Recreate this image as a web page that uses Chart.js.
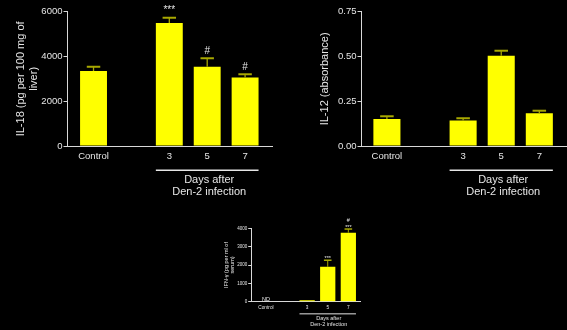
<!DOCTYPE html>
<html>
<head>
<meta charset="utf-8">
<script src="https://cdn.jsdelivr.net/npm/chart.js@4/dist/chart.umd.min.js"></script>
<style>
  html, body { margin: 0; padding: 0; background: #000; }
  body { width: 567px; height: 330px; position: relative; overflow: hidden; }
  .box { position: absolute; }
</style>
</head>
<body>
<div class="box" style="left:0;top:0;width:290px;height:205px"><canvas id="c1"></canvas></div>
<div class="box" style="left:290px;top:0;width:277px;height:205px"><canvas id="c2"></canvas></div>
<div class="box" style="left:200px;top:215px;width:170px;height:115px"><canvas id="c3"></canvas></div>
<script>
// --- data -----------------------------------------------------------
const CATS = ["Control", "3", "5", "7"];
const CAT_POS = [0, 2, 3, 4];           // gap between Control and day 3
const GROUP_LABEL = ["Days after", "Den-2 infection"];
const GROUP_FROM = 1, GROUP_TO = 3;     // indices of the grouped bars

const IL18 = [3350, 5500, 3540, 3060];
const IL18_ERR = [190, 230, 380, 145];
const IL18_MARKS = [[], ["***"], ["#"], ["#"]];
const IL18_TICKS = [0, 2000, 4000, 6000];
const IL18_TITLE = ["IL-18 (pg per 100 mg of", "liver)"];

const IL12 = [0.151, 0.143, 0.504, 0.183];
const IL12_ERR = [0.015, 0.012, 0.028, 0.014];
const IL12_MARKS = [[], [], [], []];
const IL12_TICKS = [0, 0.25, 0.5, 0.75];
const IL12_TITLE = "IL-12 (absorbance)";

const IFNG = [null, 80, 1900, 3760];
const IFNG_ERR = [0, 0, 360, 200];
const IFNG_MARKS = [["ND"], [], ["***"], ["***", "#"]];
const IFNG_TICKS = [0, 1000, 2000, 3000, 4000];
const IFNG_TITLE = ["IFN-\u03b3 (pg per ml of", "serum)"];

// --- looks ------------------------------------------------------------
const FONT = "'Liberation Sans', Arial, sans-serif";
const YELLOW = "#ffff00";
const ERRBAR = "#a8a800";
const AXIS = "#d8d8d8";
const TEXT = "#e6e6e6";

// error bars, stars and the "Days after" group label
function makeMarkup(p) {
  return {
    id: "markup",
    afterDatasetsDraw(chart) {
      const ctx = chart.ctx, xs = chart.scales.x, ys = chart.scales.y;
      const slot = xs.getPixelForValue(1) - xs.getPixelForValue(0);
      const half = slot * p.barPct / 2;
      const y0 = ys.getPixelForValue(0);
      ctx.save();
      ctx.strokeStyle = ERRBAR;
      p.values.forEach((v, i) => {
        if (v == null || !p.err[i]) return;
        const x = xs.getPixelForValue(CAT_POS[i]);
        const top = ys.getPixelForValue(v + p.err[i]);
        ctx.lineWidth = p.stemW;
        ctx.beginPath(); ctx.moveTo(x, ys.getPixelForValue(v)); ctx.lineTo(x, top); ctx.stroke();
        ctx.lineWidth = p.capW;
        ctx.beginPath(); ctx.moveTo(x - half / 2, top); ctx.lineTo(x + half / 2, top); ctx.stroke();
      });
      // significance marks
      ctx.fillStyle = TEXT;
      ctx.textAlign = "center";
      ctx.textBaseline = "alphabetic";
      ctx.font = p.markFont + "px " + FONT;
      p.marks.forEach((lines, i) => {
        const v = p.values[i];
        const base = v == null ? y0 : ys.getPixelForValue(v + (p.err[i] || 0));
        const x = xs.getPixelForValue(CAT_POS[i]);
        lines.forEach((t, k) => ctx.fillText(t, x, base - p.markGap - k * p.markStep));
      });
      // group underline + label
      const x1 = xs.getPixelForValue(CAT_POS[GROUP_FROM]) - half;
      const x2 = xs.getPixelForValue(CAT_POS[GROUP_TO]) + half;
      const s = p.s;
      ctx.strokeStyle = TEXT;
      ctx.lineWidth = Math.max(1, 1.5 * s);
      ctx.beginPath(); ctx.moveTo(x1, y0 + 24.3 * s); ctx.lineTo(x2, y0 + 24.3 * s); ctx.stroke();
      ctx.font = (11 * s) + "px " + FONT;
      ctx.textBaseline = "middle";
      GROUP_LABEL.forEach((t, k) => ctx.fillText(t, (x1 + x2) / 2 + 2 * s, y0 + (34 + 11.7 * k) * s));
      ctx.restore();
    }
  };
}

function graf(id, p) {
  const s = p.s;
  return new Chart(document.getElementById(id), {
    type: "bar",
    data: {
      datasets: [{
        data: CAT_POS.map((x, i) => ({ x, y: p.values[i] })),
        backgroundColor: YELLOW,
        barPercentage: p.barPct,
        categoryPercentage: 1,
      }]
    },
    options: {
      responsive: true, maintainAspectRatio: false, animation: false,
      layout: { padding: p.pad },
      plugins: { legend: { display: false }, tooltip: { enabled: false } },
      scales: {
        x: {
          type: "linear", min: p.xmin, max: p.xmax, offset: false,
          grid: { display: false, drawTicks: false },
          border: { display: true, color: AXIS, width: 1 },
          afterBuildTicks: sc => { sc.ticks = CAT_POS.map(v => ({ value: v })); },
          afterFit: sc => { sc.height = p.xh; },
          ticks: {
            color: TEXT, font: { family: FONT, size: 9.5 * s }, padding: p.xpad,
            maxRotation: 0, autoSkip: false,
            callback: v => CATS[CAT_POS.indexOf(v)],
          },
        },
        y: {
          min: p.ticks[0], max: p.ticks[p.ticks.length - 1],
          afterBuildTicks: sc => { sc.ticks = p.ticks.map(v => ({ value: v })); },
          afterFit: sc => { sc.width = p.yw; },
          grid: { drawOnChartArea: false, drawTicks: true, tickLength: 3.5, color: AXIS },
          border: { display: true, color: AXIS, width: 1 },
          ticks: { color: TEXT, font: { family: FONT, size: p.yFont }, padding: 1, callback: p.fmt },
          title: {
            display: true, text: p.title, color: TEXT,
            font: { family: FONT, size: 11 * s, lineHeight: 1.2 },
            padding: { top: p.tpad, bottom: 0 },
          },
        },
      },
    },
    plugins: [makeMarkup(p)],
  });
}

graf("c1", {
  values: IL18, err: IL18_ERR, marks: IL18_MARKS, ticks: IL18_TICKS, title: IL18_TITLE,
  fmt: v => String(v), s: 1, yFont: 9.5, barPct: 0.71,
  xmin: -0.70, xmax: 4.71, yw: 67, xh: 59, xpad: 5, tpad: 13.9,
  pad: { left: 0, top: 11.7, right: 18, bottom: 0 },
  stemW: 1.3, capW: 2, markFont: 10, markGap: 4.6, markStep: 11,
});

graf("c2", {
  values: IL12, err: IL12_ERR, marks: IL12_MARKS, ticks: IL12_TICKS, title: IL12_TITLE,
  fmt: v => v.toFixed(2), s: 1, yFont: 9.5, barPct: 0.71,
  xmin: -0.68, xmax: 4.70, yw: 71, xh: 59, xpad: 5, tpad: 28.4,
  pad: { left: 0, top: 11.7, right: 1, bottom: 0 },
  stemW: 1.3, capW: 2, markFont: 10, markGap: 4.6, markStep: 11,
});

graf("c3", {
  values: IFNG, err: IFNG_ERR, marks: IFNG_MARKS, ticks: IFNG_TICKS, title: IFNG_TITLE,
  fmt: v => String(v), s: 0.5, yFont: 4.5, barPct: 0.74,
  xmin: -0.69, xmax: 4.60, yw: 51.7, xh: 28.3, xpad: 3.5, tpad: 22.7,
  pad: { left: 0, top: 13.3, right: 9.3, bottom: 0 },
  stemW: 1, capW: 1.5, markFont: 5.5, markGap: 0.5, markStep: 7,
});
</script>
</body>
</html>
